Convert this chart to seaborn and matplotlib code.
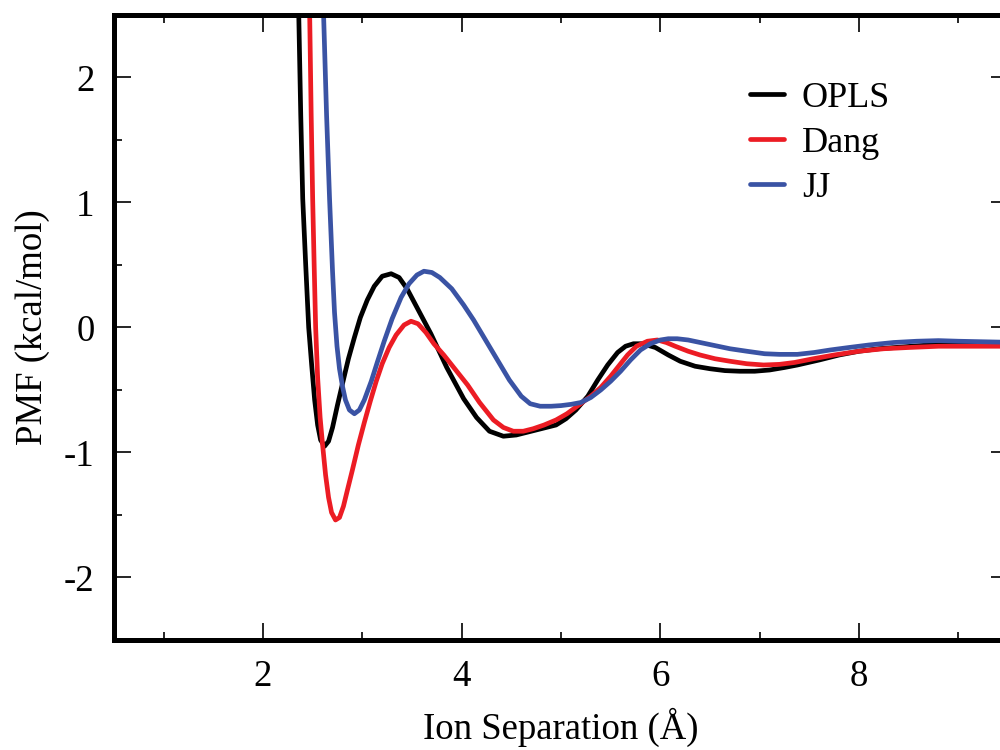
import matplotlib
matplotlib.use("Agg")
from matplotlib import pyplot as plt
from matplotlib.ticker import MultipleLocator
import seaborn as sns
import pandas as pd

# values
opls_x = [2.33, 2.36, 2.38, 2.40, 2.43, 2.46, 2.49, 2.52, 2.55, 2.58, 2.62, 2.66, 2.70, 2.75, 2.80,
          2.86, 2.92, 2.98, 3.05, 3.12, 3.20, 3.29, 3.37, 3.45, 3.55, 3.69, 3.85, 4.02, 4.15, 4.28,
          4.42, 4.55, 4.70, 4.85, 4.95, 5.05, 5.15, 5.27, 5.37, 5.47, 5.57, 5.65, 5.73, 5.82, 5.95,
          6.08, 6.20, 6.35, 6.50, 6.65, 6.80, 6.95, 7.10, 7.25, 7.38, 7.60, 7.80, 8.00, 8.20, 8.45,
          8.70, 9.00, 9.30, 9.60]
opls_y = [4.0, 2.5, 1.7, 1.03, 0.5, 0.0, -0.3, -0.58, -0.78, -0.9, -0.95, -0.91, -0.80, -0.62, -0.45,
          -0.25, -0.08, 0.08, 0.22, 0.33, 0.41, 0.43, 0.40, 0.31, 0.16, -0.05, -0.32, -0.57, -0.72, -0.83,
          -0.87, -0.86, -0.83, -0.80, -0.78, -0.73, -0.66, -0.55, -0.42, -0.30, -0.20, -0.15, -0.13, -0.13, -0.16,
          -0.22, -0.27, -0.31, -0.33, -0.345, -0.35, -0.35, -0.34, -0.32, -0.30, -0.26, -0.22, -0.19, -0.17, -0.155,
          -0.14, -0.135, -0.13, -0.13]

dang_x = [2.45, 2.47, 2.485, 2.50, 2.515, 2.53, 2.55, 2.575, 2.60, 2.63, 2.66, 2.69, 2.73, 2.77, 2.81,
          2.85, 2.90, 2.96, 3.02, 3.08, 3.14, 3.20, 3.27, 3.34, 3.42, 3.49, 3.56, 3.64, 3.72, 3.82,
          3.92, 4.06, 4.18, 4.32, 4.42, 4.52, 4.62, 4.72, 4.83, 4.95, 5.06, 5.18, 5.30, 5.40, 5.50,
          5.60, 5.67, 5.76, 5.87, 5.97, 6.06, 6.15, 6.28, 6.40, 6.55, 6.70, 6.87, 7.04, 7.20, 7.35,
          7.54, 7.75, 8.00, 8.25, 8.50, 8.80, 9.10, 9.60]
dang_y = [4.0, 2.5, 1.7, 1.03, 0.5, 0.0, -0.4, -0.72, -0.94, -1.18, -1.36, -1.48, -1.54, -1.52, -1.43,
          -1.30, -1.14, -0.94, -0.76, -0.59, -0.43, -0.29, -0.16, -0.06, 0.02, 0.05, 0.03, -0.04, -0.13, -0.22,
          -0.32, -0.46, -0.60, -0.74, -0.80, -0.83, -0.83, -0.81, -0.78, -0.74, -0.69, -0.62, -0.55, -0.48, -0.39,
          -0.29, -0.22, -0.15, -0.11, -0.10, -0.12, -0.15, -0.19, -0.22, -0.25, -0.27, -0.29, -0.30, -0.295, -0.28,
          -0.25, -0.22, -0.19, -0.17, -0.16, -0.15, -0.15, -0.15]

jj_x = [2.58, 2.61, 2.64, 2.67, 2.70, 2.72, 2.745, 2.77, 2.80, 2.83, 2.87, 2.92, 2.97, 3.02, 3.09,
        3.15, 3.22, 3.30, 3.39, 3.47, 3.55, 3.62, 3.70, 3.78, 3.90, 4.02, 4.12, 4.24, 4.36, 4.48,
        4.60, 4.69, 4.79, 4.90, 5.00, 5.10, 5.20, 5.30, 5.40, 5.50, 5.60, 5.70, 5.80, 5.90, 6.00,
        6.08, 6.17, 6.28, 6.40, 6.55, 6.70, 6.87, 7.05, 7.20, 7.38, 7.55, 7.71, 7.90, 8.10, 8.35,
        8.58, 8.80, 9.00, 9.30, 9.60]
jj_y = [4.0, 2.5, 1.7, 1.03, 0.45, 0.12, -0.15, -0.33, -0.47, -0.58, -0.66, -0.69, -0.66, -0.58, -0.43,
        -0.28, -0.11, 0.07, 0.24, 0.35, 0.42, 0.45, 0.44, 0.40, 0.31, 0.18, 0.06, -0.10, -0.26, -0.42,
        -0.55, -0.61, -0.63, -0.63, -0.625, -0.615, -0.60, -0.56, -0.50, -0.43, -0.35, -0.26, -0.18, -0.13, -0.10,
        -0.09, -0.09, -0.10, -0.12, -0.145, -0.17, -0.19, -0.21, -0.215, -0.215, -0.20, -0.18, -0.16, -0.14, -0.12,
        -0.11, -0.105, -0.11, -0.115, -0.12]

models = ["OPLS", "Dang", "JJ"]
colors = ["#000000", "#ec1c24", "#3a53a4"]

df = pd.concat([
    pd.DataFrame({"r": opls_x, "pmf": opls_y, "model": "OPLS"}),
    pd.DataFrame({"r": dang_x, "pmf": dang_y, "model": "Dang"}),
    pd.DataFrame({"r": jj_x, "pmf": jj_y, "model": "JJ"}),
])

sns.set_style("ticks")
plt.rcParams['font.family'] = ['Liberation Serif', 'DejaVu Serif']
plt.rcParams['axes.unicode_minus'] = False
for key in ["text.color", "axes.labelcolor", "xtick.color", "ytick.color", "axes.edgecolor"]:
    plt.rcParams[key] = "black"

fig = plt.figure(figsize=(10, 7.5), dpi=100)
ax = fig.add_axes([0.114, 0.1467, 0.894, 0.8333])

sns.lineplot(data=df, x="r", y="pmf", hue="model", hue_order=models,
             palette=dict(zip(models, colors)), estimator=None, sort=False,
             linewidth=3.4, ax=ax)

ax.set_xlim(0.5, 9.5)
ax.set_ylim(-2.5, 2.5)
ax.xaxis.set_major_locator(MultipleLocator(2))
ax.xaxis.set_minor_locator(MultipleLocator(1))
ax.yaxis.set_major_locator(MultipleLocator(1))
ax.yaxis.set_minor_locator(MultipleLocator(0.5))
ax.tick_params(which="both", direction="in", top=True, right=True, labelsize=26.5, pad=14)
ax.tick_params(which="major", length=12, width=1.2)
ax.tick_params(which="minor", length=6, width=1.2)
for s in ax.spines.values():
    s.set_linewidth(3.6)

ax.set_xlabel("Ion Separation (Å)", fontsize=26.5, labelpad=10)
ax.set_ylabel("PMF (kcal/mol)", fontsize=26.5, labelpad=10)

leg = ax.legend(loc="upper left", bbox_to_anchor=(0.711, 0.894), frameon=False,
                fontsize=26, handlelength=0.95, handletextpad=0.5, labelspacing=0.33,
                borderpad=0, borderaxespad=0)
for line in leg.get_lines():
    line.set_linewidth(3.4)

fig.savefig("out.png", dpi=100)
